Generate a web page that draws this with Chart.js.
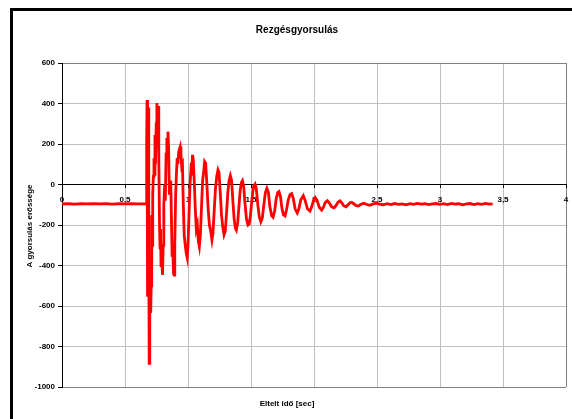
<!DOCTYPE html>
<html>
<head>
<meta charset="utf-8">
<script src="https://cdn.jsdelivr.net/npm/chart.js@4"></script>
<style>
  html, body { margin: 0; padding: 0; background: #fff; overflow: hidden; }
  #wrap { position: relative; width: 572px; height: 419px; }
  #frame { position: absolute; left: 10px; top: 8px; width: 600px; height: 500px; border: 3px solid #000; }
  #graph { position: absolute; left: 0; top: 0; }
</style>
</head>
<body>
<div id="wrap">
  <div id="frame"></div>
  <canvas id="graph" width="572" height="419"></canvas>
</div>
<script>
const chartTitle = 'Rezgésgyorsulás';
const xTitle = 'Eltelt idő [sec]';
const yTitle = 'A gyorsulás erőssége';

const xMin = 0, xMax = 4, xStep = 0.5;
const yMin = -1000, yMax = 600, yStep = 200;

// elapsed time [sec]
const timeSec = [
  0, 0.05, 0.1, 0.15, 0.2, 0.25, 0.3, 0.35, 0.4, 0.45, 0.5, 0.55, 0.6, 0.664,
  0.668, 0.672, 0.675, 0.677, 0.679, 0.681, 0.684, 0.687, 0.690, 0.692, 0.695, 0.698,
  0.701, 0.704, 0.708, 0.712, 0.716, 0.720, 0.725, 0.730, 0.734, 0.738, 0.742, 0.748,
  0.753, 0.758, 0.763, 0.768, 0.774, 0.778, 0.782, 0.786, 0.792, 0.798, 0.803, 0.808,
  0.815, 0.820, 0.826, 0.832, 0.837, 0.841, 0.846, 0.852, 0.858, 0.863, 0.868, 0.874,
  0.880, 0.885, 0.889, 0.895, 0.902, 0.908, 0.914, 0.920, 0.926, 0.932, 0.938, 0.944,
  0.950, 0.956, 0.962, 0.970, 0.978, 0.986, 0.994, 1.000, 1.008, 1.016, 1.024, 1.030,
  1.036, 1.042, 1.050, 1.058, 1.066, 1.074, 1.082, 1.090, 1.098, 1.108, 1.116, 1.124,
  1.132, 1.140, 1.150, 1.160, 1.170, 1.180, 1.190, 1.198, 1.208, 1.218, 1.228, 1.238,
  1.246, 1.256, 1.266, 1.276, 1.286, 1.296, 1.306, 1.316, 1.326, 1.336, 1.346, 1.356,
  1.366, 1.376, 1.384, 1.394, 1.404, 1.414, 1.424, 1.432, 1.442, 1.452, 1.464, 1.476,
  1.486, 1.496, 1.508, 1.520, 1.532, 1.542, 1.554, 1.566, 1.578, 1.590, 1.602, 1.614,
  1.626, 1.638, 1.650, 1.664, 1.675, 1.688, 1.700, 1.712, 1.722, 1.734, 1.746, 1.758,
  1.770, 1.782, 1.796, 1.810, 1.823, 1.836, 1.850, 1.867, 1.880, 1.895, 1.915, 1.930,
  1.948, 1.968, 1.982, 1.996, 2.010, 2.025, 2.042, 2.061, 2.075, 2.090, 2.106, 2.122,
  2.140, 2.159, 2.175, 2.190, 2.206, 2.222, 2.238, 2.254, 2.270, 2.285, 2.299, 2.315,
  2.335, 2.352, 2.370, 2.385, 2.399, 2.420, 2.444, 2.470, 2.497, 2.52, 2.55, 2.58,
  2.61, 2.64, 2.67, 2.70, 2.73, 2.76, 2.79, 2.82, 2.85, 2.88, 2.91, 2.94,
  2.97, 3.00, 3.03, 3.06, 3.09, 3.12, 3.15, 3.18, 3.21, 3.24, 3.27, 3.30,
  3.33, 3.36, 3.39, 3.418
];

// acceleration values
const accel = [
  -96, -95, -97, -95, -96, -94, -96, -95, -97, -95, -96, -94, -96, -95,
  -96, 200, 417, -100, -554, 250, 380, -400, -200, -883, -450, -600,
  -480, -635, -500, -150, -300, -50, 40, 130, 50, 245, 100, 300,
  402, 330, 388, 150, -200, -313, -220, -400, -380, -447, -300, -100,
  -3, -80, 150, 230, 210, 261, 180, -50, -20, 20, -150, -350,
  -330, -440, -447, -300, -50, 50, 130, 100, 160, 175, 187, 150,
  90, 100, -80, -250, -300, -340, -363, -300, -150, 0, 80, 70,
  146, 120, 10, -120, -220, -200, -280, -307, -250, -100, 20, 60,
  113, 105, 0, -120, -200, -230, -274, -240, -130, -20, 40, 72,
  60, -40, -150, -210, -249, -230, -140, -40, 20, 44, 20, -80,
  -170, -215, -225, -190, -110, -30, 10, 19, -10, -90, -170, -200,
  -195, -150, -70, -10, 2, -20, -100, -160, -184, -165, -100, -40,
  -19, -40, -110, -155, -162, -130, -70, -40, -35, -60, -120, -150,
  -155, -125, -75, -50, -45, -70, -120, -140, -120, -75, -55, -80,
  -120, -131, -110, -78, -65, -80, -112, -126, -112, -88, -80, -92,
  -110, -115, -104, -88, -81, -92, -106, -110, -100, -90, -88, -95,
  -104, -106, -99, -94, -93, -99, -103, -96, -92, -97, -100, -95,
  -99, -94, -98, -96, -100, -95, -98, -93, -97, -95, -99, -96,
  -94, -98, -95, -99, -93, -97, -95, -100, -96, -94, -99, -95,
  -98, -93, -97, -96
];

const points = timeSec.map((t, i) => ({ x: t, y: accel[i] }));

const fontFamily = '"Liberation Sans", Arial, sans-serif';
Chart.defaults.font.family = fontFamily;
Chart.defaults.font.size = 8;
Chart.defaults.font.weight = 'bold';
Chart.defaults.color = '#000';

const textPlugin = {
  id: 'texts',
  afterDraw(chart) {
    const c = chart.ctx;
    c.save();
    c.fillStyle = '#000';
    c.textAlign = 'center';
    c.textBaseline = 'middle';
    c.font = 'bold 10px ' + fontFamily;
    c.fillText(chartTitle, 297, 30);
    c.font = 'bold 8px ' + fontFamily;
    c.fillText(xTitle, 287, 404);
    c.translate(30, 226);
    c.rotate(-Math.PI / 2);
    c.fillText(yTitle, 0, 0);
    c.restore();
  }
};

const ctx = document.getElementById('graph').getContext('2d');
new Chart(ctx, {
  type: 'scatter',
  data: {
    datasets: [{
      data: points,
      showLine: true,
      borderColor: '#ff0000',
      borderWidth: 2.8,
      pointRadius: 0,
      tension: 0,
      fill: false
    }]
  },
  options: {
    responsive: false,
    animation: false,
    layout: { padding: { left: 10, right: 6, top: 63, bottom: 32 } },
    plugins: { legend: { display: false }, tooltip: { enabled: false } },
    scales: {
      x: {
        type: 'linear',
        position: { y: 0 },
        min: xMin,
        max: xMax,
        afterFit: s => { s.paddingLeft = 0; s.paddingRight = 0; },
        ticks: {
          stepSize: xStep,
          padding: 7,
          maxRotation: 0,
          callback: v => String(v).replace('.', ',')
        },
        grid: {
          z: -1,
          color: c => (c.tick && c.tick.value === xMax) ? '#808080' : '#c0c0c0',
          tickColor: '#000',
          tickLength: 3
        },
        border: { color: '#000', width: 1 }
      },
      y: {
        type: 'linear',
        min: yMin,
        max: yMax,
        afterFit: s => { s.width = 52; },
        ticks: {
          stepSize: yStep,
          padding: 3,
          callback: v => String(v)
        },
        grid: {
          z: -1,
          color: c => (c.tick && (c.tick.value === yMax || c.tick.value === yMin)) ? '#808080' : '#c0c0c0',
          tickColor: '#000',
          tickLength: 4
        },
        border: { color: '#000', width: 1 }
      }
    }
  },
  plugins: [textPlugin]
});
</script>
</body>
</html>
